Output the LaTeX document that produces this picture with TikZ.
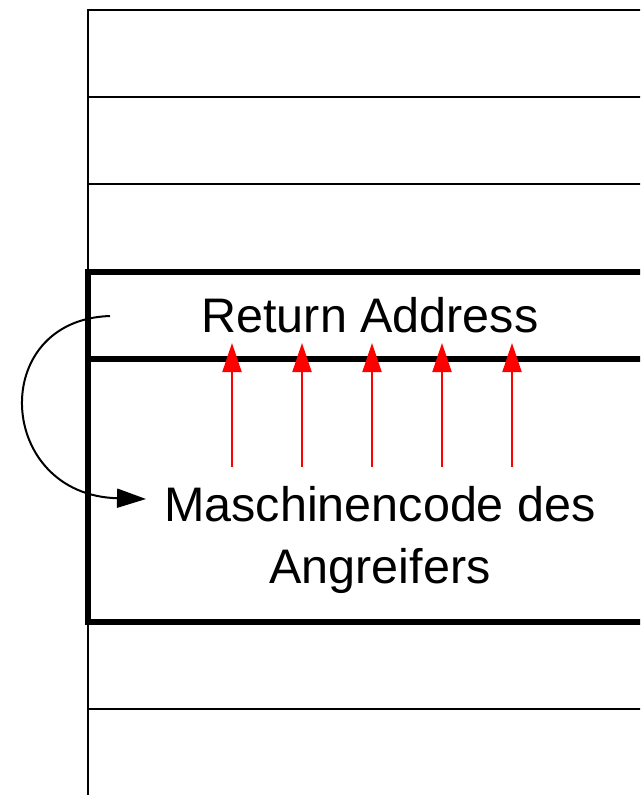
\documentclass[tikz,border=0pt]{standalone}
\usepackage{fontspec}
\setmainfont{Liberation Sans}
\usetikzlibrary{arrows.meta}
\tikzset{
  thin line/.style={line width=2pt, draw=black},
  thick line/.style={line width=5.5pt, draw=black},
  red arrow/.style={line width=2pt, draw=red, -{Triangle[length=29pt,width=19pt]}, red},
  jump arrow/.style={line width=2pt, draw=black, -{Triangle[length=29pt,width=19pt]}},
  label text/.style={font=\fontsize{48.5}{61.5}\selectfont, inner sep=0pt, align=center}
}
\begin{document}
\begin{tikzpicture}[x=1pt,y=-1pt]
\clip (0,0) rectangle (640,795);
\fill[white] (0,0) rectangle (640,795);
% thin frame lines
\draw[thin line] (650,9.5) -- (88,9.5) -- (88,800);
\draw[thin line] (88,97) -- (650,97);
\draw[thin line] (88,184) -- (650,184);
\draw[thin line] (88,709) -- (650,709);
% thick box
\draw[thick line] (650,272) -- (88,272) -- (88,622) -- (650,622);
\draw[thick line] (88,359) -- (650,359);
% texts
\node[label text, anchor=base] (ret) at (370,332) {Return Address};
\node[label text, anchor=base] (code) at (380,583) {Maschinencode des\\Angreifers};
% red arrows
\foreach \i/\x in {1/232,2/302,3/372,4/442,5/512}{
  \coordinate (s\i) at (\x,467);
  \coordinate (e\i) at (\x,343);
  \draw[red arrow] (s\i) -- (e\i);
}
% jump arrow
\coordinate (js) at (110,316);
\coordinate (je) at (146,499);
\draw[jump arrow] (js) .. controls (-13,320) and (-4,495) .. (je);
\end{tikzpicture}
\end{document}
